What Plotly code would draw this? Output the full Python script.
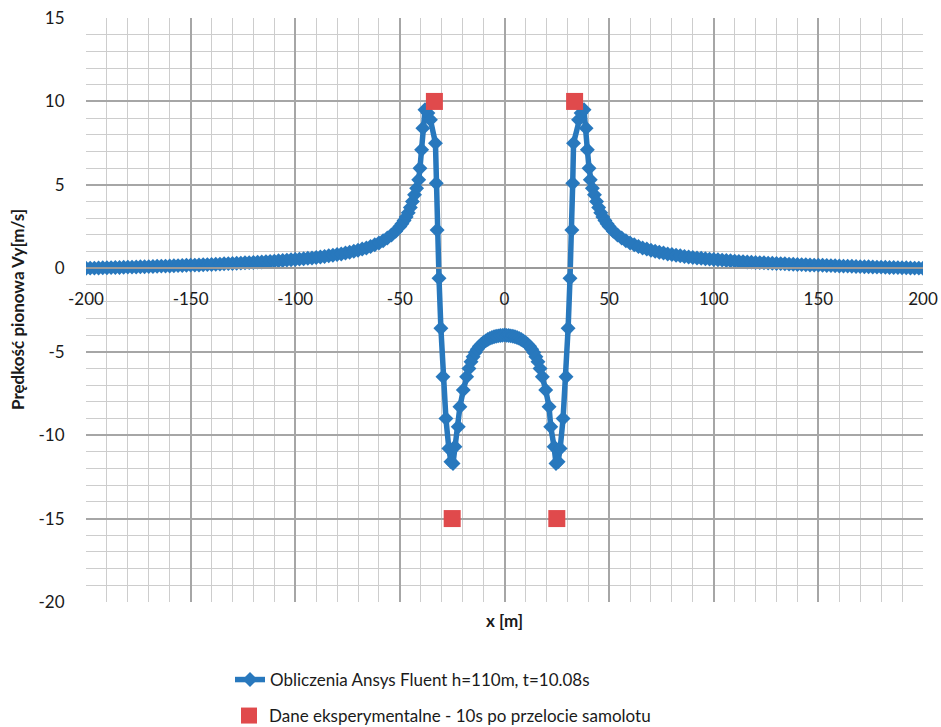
import plotly.graph_objects as go

# ---------------- data ----------------
x_left_outer = [
    -200, -198, -196, -194, -192, -190, -188, -186, -184, -182,
    -180, -178, -176, -174, -172, -170, -168, -166, -164, -162,
    -160, -158, -156, -154, -152, -150, -148, -146, -144, -142,
    -140, -138, -136, -134, -132, -130, -128, -126, -124, -122,
    -120, -118, -116, -114, -112, -110, -108, -106, -104, -102,
    -100, -98, -96, -94, -92, -90, -88, -86, -84, -82,
    -80, -78, -76, -74, -72, -70, -68, -66, -64, -62,
    -60, -58, -56, -54, -52, -50, -49, -48, -47, -46,
    -45, -44, -43, -42, -41, -40.4, -39.6, -39.0, -38.0]
y_left_outer = [
    0.00, 0.01, 0.01, 0.02, 0.03, 0.03, 0.04, 0.05, 0.05, 0.06,
    0.07, 0.07, 0.08, 0.09, 0.09, 0.10, 0.11, 0.12, 0.13, 0.13,
    0.14, 0.15, 0.16, 0.17, 0.18, 0.19, 0.19, 0.20, 0.21, 0.22,
    0.23, 0.24, 0.25, 0.27, 0.28, 0.29, 0.30, 0.31, 0.33, 0.34,
    0.35, 0.37, 0.38, 0.40, 0.41, 0.43, 0.45, 0.47, 0.49, 0.51,
    0.53, 0.55, 0.57, 0.60, 0.62, 0.65, 0.68, 0.71, 0.75, 0.78,
    0.82, 0.86, 0.91, 0.96, 1.02, 1.08, 1.15, 1.22, 1.31, 1.41,
    1.52, 1.65, 1.81, 1.99, 2.22, 2.50, 2.67, 2.86, 3.08, 3.33,
    3.64, 4.00, 4.40, 4.80, 5.30, 6.00, 7.10, 8.40, 9.50]

x_left_descent = [-36.6, -35.4, -33.0, -32.6, -32.2, -31.3, -30.4, -29.4, -28.0, -26.6, -25.6]
y_left_descent = [9.3, 8.9, 7.5, 5.1, 2.3, -0.6, -3.6, -6.5, -9.0, -10.8, -11.6]

x_left_inner = [-24.6, -23.7, -22.1, -21.3, -19.7, -18.1, -17, -16, -15, -14, -13, -12,
                -11, -10, -9, -8, -7, -6, -5, -4, -3, -2, -1, 0]
y_left_inner = [-11.7, -10.7, -9.5, -8.3, -7.3, -6.5, -6.0, -5.6, -5.3, -5.05, -4.85, -4.68,
                -4.55, -4.44, -4.35, -4.27, -4.2, -4.15, -4.1, -4.07, -4.05, -4.03, -4.02, -4.0]

x_right_inner = [1, 2, 3, 4, 5, 6, 7, 8, 9, 10, 11, 12, 13, 14, 15, 16, 17,
                 18.1, 19.7, 21.3, 22.1, 23.7, 24.6]
y_right_inner = [-4.02, -4.03, -4.05, -4.07, -4.1, -4.15, -4.2, -4.27, -4.35, -4.44, -4.55,
                 -4.68, -4.85, -5.05, -5.3, -5.6, -6.0, -6.5, -7.3, -8.3, -9.5, -10.7, -11.7]

x_right_descent = [25.6, 26.6, 28.0, 29.4, 30.4, 31.3, 32.2, 32.6, 33.0, 35.4, 36.6]
y_right_descent = [-11.6, -10.8, -9.0, -6.5, -3.6, -0.6, 2.3, 5.1, 7.5, 8.9, 9.3]

x_right_outer = [
    38.0, 39.0, 39.6, 40.4, 41, 42, 43, 44, 45,
    46, 47, 48, 49, 50, 52, 54, 56, 58, 60,
    62, 64, 66, 68, 70, 72, 74, 76, 78, 80,
    82, 84, 86, 88, 90, 92, 94, 96, 98, 100,
    102, 104, 106, 108, 110, 112, 114, 116, 118, 120,
    122, 124, 126, 128, 130, 132, 134, 136, 138, 140,
    142, 144, 146, 148, 150, 152, 154, 156, 158, 160,
    162, 164, 166, 168, 170, 172, 174, 176, 178, 180,
    182, 184, 186, 188, 190, 192, 194, 196, 198, 200]
y_right_outer = [
    9.50, 8.40, 7.10, 6.00, 5.30, 4.80, 4.40, 4.00, 3.64,
    3.33, 3.08, 2.86, 2.67, 2.50, 2.22, 1.99, 1.81, 1.65, 1.52,
    1.41, 1.31, 1.22, 1.15, 1.08, 1.02, 0.96, 0.91, 0.86, 0.82,
    0.78, 0.75, 0.71, 0.68, 0.65, 0.62, 0.60, 0.57, 0.55, 0.53,
    0.51, 0.49, 0.47, 0.45, 0.43, 0.41, 0.40, 0.38, 0.37, 0.35,
    0.34, 0.33, 0.31, 0.30, 0.29, 0.28, 0.27, 0.25, 0.24, 0.23,
    0.22, 0.21, 0.20, 0.19, 0.19, 0.18, 0.17, 0.16, 0.15, 0.14,
    0.13, 0.13, 0.12, 0.11, 0.10, 0.09, 0.09, 0.08, 0.07, 0.07,
    0.06, 0.05, 0.05, 0.04, 0.03, 0.03, 0.02, 0.01, 0.01, 0.00]

x_exp = [-33.5, 33.5, -25, 25]
y_exp = [10, 10, -15, -15]

x_tickvals = [-200, -150, -100, -50, 0, 50, 100, 150, 200]
x_ticktext = ["-200", "-150", "-100", "-50", "0", "50", "100", "150", "200"]
y_tickvals = [-20, -15, -10, -5, 0, 5, 10, 15]
y_ticktext = ["-20", "-15", "-10", "-5", "0", "5", "10", "15"]

name_sim = "Obliczenia Ansys Fluent h=110m, t=10.08s"
name_exp = "Dane eksperymentalne - 10s po przelocie samolotu"

# ---------------- figure ----------------
x_sim = (x_left_outer + x_left_descent + x_left_inner +
         x_right_inner + x_right_descent + x_right_outer)
y_sim = (y_left_outer + y_left_descent + y_left_inner +
         y_right_inner + y_right_descent + y_right_outer)

BLUE = "#2878bd"
RED = "#e04a4c"
FONT = "Lato"
TXT = "#1a1a1a"

fig = go.Figure()
fig.add_trace(go.Scatter(
    x=x_sim, y=y_sim, mode="lines+markers", name=name_sim,
    line=dict(color=BLUE, width=5.5),
    marker=dict(symbol="diamond", size=11.5, color=BLUE),
    legend="legend",
))
fig.add_trace(go.Scatter(
    x=x_exp, y=y_exp, mode="markers", name=name_exp,
    marker=dict(symbol="square", size=17, color=RED),
    legend="legend2",
))

W, H = 941, 727
L, R, T, B = 86, 18, 18, 125
pw, ph = W - L - R, H - T - B
plot_bottom = T + ph


def px_x(p):
    return (p - L) / pw


def px_y(p):
    return (plot_bottom - p) / ph


fig.update_layout(
    width=W, height=H,
    margin=dict(l=L, r=R, t=T, b=B, autoexpand=False),
    paper_bgcolor="white", plot_bgcolor="white",
    font=dict(family=FONT, size=17, color=TXT),
    showlegend=True,
    legend=dict(x=px_x(230), y=px_y(680), xanchor="left", yanchor="middle",
                bgcolor="rgba(0,0,0,0)", font=dict(family=FONT, size=17, color=TXT)),
    legend2=dict(x=px_x(229), y=px_y(716), xanchor="left", yanchor="middle",
                 bgcolor="rgba(0,0,0,0)", font=dict(family=FONT, size=17, color=TXT)),
    xaxis=dict(
        range=[-200, 200], tickmode="array", tickvals=x_tickvals, ticktext=x_ticktext,
        tickangle=0,
        showgrid=True, gridcolor="#a6a6a6", gridwidth=1.6,
        minor=dict(tickmode="array", tickvals=list(range(-200, 201, 10)),
                   showgrid=True, gridcolor="#cdcdcd", gridwidth=1.4, ticks=""),
        zeroline=False, anchor="free", position=20 / 35,
        showline=True, linecolor="#9a9a9a", linewidth=1.6,
        ticks="outside", ticklen=16, tickcolor="rgba(0,0,0,0)",
        tickfont=dict(family=FONT, size=17, color=TXT),
    ),
    yaxis=dict(
        range=[-20, 15], tickmode="array", tickvals=y_tickvals, ticktext=y_ticktext,
        showgrid=True, gridcolor="#a6a6a6", gridwidth=1.6,
        minor=dict(tickmode="array", tickvals=list(range(-20, 16, 1)),
                   showgrid=True, gridcolor="#cdcdcd", gridwidth=1.4, ticks=""),
        zeroline=False, showline=False,
        ticks="outside", ticklen=17, tickcolor="rgba(0,0,0,0)",
        tickfont=dict(family=FONT, size=17, color=TXT),
    ),
    annotations=[
        dict(text="<b>Prędkość pionowa Vy[m/s]</b>", xref="paper", yref="paper",
             x=px_x(17), y=0.5, textangle=-90, showarrow=False,
             xanchor="center", yanchor="middle",
             font=dict(family=FONT, size=17, color=TXT)),
        dict(text="<b>x [m]</b>", xref="paper", yref="paper",
             x=px_x(504), y=px_y(620), showarrow=False,
             xanchor="center", yanchor="middle",
             font=dict(family=FONT, size=17, color=TXT)),
    ],
)

fig.write_html(
    "out.html",
    config={"displayModeBar": False},
    post_script="document.body.style.margin='0px';document.body.style.overflow='hidden';",
)
